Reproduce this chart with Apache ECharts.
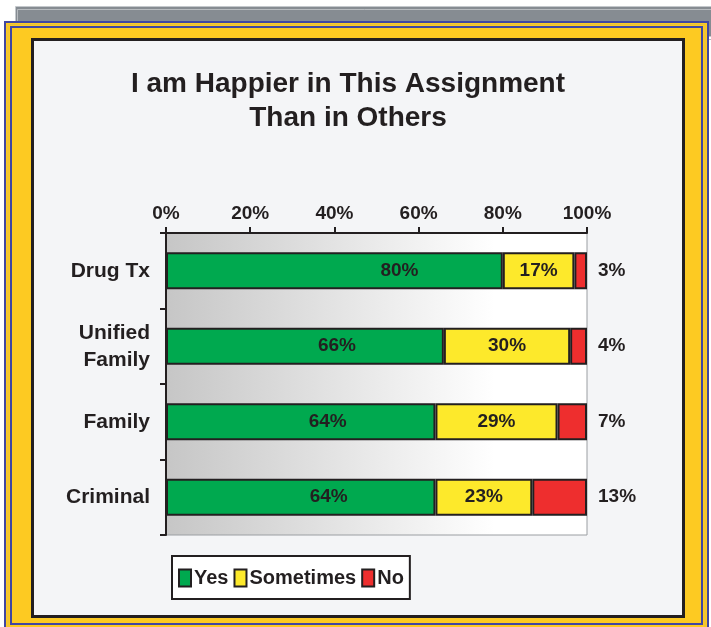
<!DOCTYPE html>
<html><head><meta charset="utf-8">
<script src="https://cdn.jsdelivr.net/npm/echarts@6/dist/echarts.min.js"></script>
<style>html,body{margin:0;padding:0;background:#fff}#c{width:711px;height:627px}</style>
</head><body><div id="c"></div>
<script>
const categories = ['Drug Tx', 'Unified\nFamily', 'Family', 'Criminal'];
const yesValues = [80, 66, 64, 64];
const sometimesValues = [17, 30, 29, 23];
const noValues = [3, 4, 7, 13];
const xTickLabels = ['0%', '20%', '40%', '60%', '80%', '100%'];
const seriesNames = ['Yes', 'Sometimes', 'No'];
const titleText = 'I am Happier in This Assignment\nThan in Others';

// label shifts of the green labels (style, px)
const yesLabelShift = [65, 32, 27, 28];

const F = 'Liberation Sans, Arial, Helvetica, sans-serif';
const DARK = '#231f20';
const chart = echarts.init(document.getElementById('c'), null, {renderer: 'canvas'});

const labelBase = {show: true, fontFamily: F, fontWeight: 'bold', fontSize: 19, color: DARK, formatter: p => p.value + '%'};
const itemBase = {borderColor: DARK, borderWidth: 2};

chart.setOption({
  animation: false,
  backgroundColor: '#ffffff',
  graphic: [
    {type: 'rect', z: -10, shape: {x: 15.5, y: 6.5, width: 720, height: 30}, style: {fill: '#868c92', stroke: '#c4c8cc', lineWidth: 1}},
    {type: 'rect', z: -10, shape: {x: 17.5, y: 9.5, width: 720, height: 30}, style: {fill: 'none', stroke: '#b8bcc0', lineWidth: 1}},
    {type: 'rect', z: -9, shape: {x: 5, y: 22, width: 703, height: 620}, style: {fill: '#fdca22', stroke: '#4046a2', lineWidth: 2}},
    {type: 'rect', z: -9, shape: {x: 8, y: 24.5, width: 697, height: 620}, style: {fill: 'none', stroke: '#e6c040', lineWidth: 1}},
    {type: 'rect', z: -9, shape: {x: 11, y: 27, width: 691, height: 597}, style: {fill: 'none', stroke: '#4046a2', lineWidth: 2}},
    {type: 'rect', z: -8, shape: {x: 32.5, y: 39.5, width: 651, height: 577}, style: {fill: '#f4f5f7', stroke: DARK, lineWidth: 3}}
  ],
  title: {
    text: titleText, left: 343, top: 62, textAlign: 'center',
    textStyle: {fontFamily: F, fontWeight: 'bold', fontSize: 28, lineHeight: 34, color: DARK}
  },
  legend: {
    data: seriesNames, left: 172, top: 556, orient: 'horizontal',
    backgroundColor: '#ffffff', borderColor: DARK, borderWidth: 2, borderRadius: 0,
    padding: [12, 6, 11, 6], itemWidth: 12, itemHeight: 17, itemGap: 5,
    icon: 'rect',
    textStyle: {fontFamily: F, fontWeight: 'bold', fontSize: 20, color: DARK, padding: [0, 0, 0, -2]},
    itemStyle: {borderColor: DARK, borderWidth: 2}
  },
  grid: {
    left: 166, right: 124, top: 233, bottom: 92, show: true,
    borderColor: '#9a9ea2', borderWidth: 1,
    backgroundColor: new echarts.graphic.LinearGradient(0, 0, 1, 0, [
      {offset: 0, color: '#c6c6c6'}, {offset: 0.78, color: '#ffffff'}, {offset: 1, color: '#ffffff'}
    ])
  },
  xAxis: {
    type: 'value', position: 'top', min: 0, max: 100, interval: 20,
    axisLine: {show: true, lineStyle: {color: DARK, width: 2}},
    axisTick: {show: true, length: 6, lineStyle: {color: DARK, width: 2}},
    splitLine: {show: false},
    axisLabel: {margin: 10, fontFamily: F, fontWeight: 'bold', fontSize: 19, color: DARK,
      formatter: (v) => xTickLabels[Math.round(v / 20)]}
  },
  yAxis: {
    type: 'category', data: categories, inverse: true,
    axisLine: {show: true, lineStyle: {color: DARK, width: 2}},
    axisTick: {show: true, length: 6, lineStyle: {color: DARK, width: 2}},
    axisLabel: {margin: 16, fontFamily: F, fontWeight: 'bold', fontSize: 21, lineHeight: 27, color: DARK, align: 'right'}
  },
  series: [
    {name: seriesNames[0], type: 'bar', stack: 'all', barWidth: 37,
      itemStyle: Object.assign({color: '#00a94f'}, itemBase),
      data: yesValues.map((v, i) => ({value: v, label: Object.assign({}, labelBase, {position: 'inside', offset: [yesLabelShift[i], 0]})}))},
    {name: seriesNames[1], type: 'bar', stack: 'all', barWidth: 37,
      itemStyle: Object.assign({color: '#fde92b'}, itemBase),
      label: Object.assign({}, labelBase, {position: 'inside'}),
      data: sometimesValues},
    {name: seriesNames[2], type: 'bar', stack: 'all', barWidth: 37,
      itemStyle: Object.assign({color: '#ee2e2e'}, itemBase),
      label: Object.assign({}, labelBase, {position: 'right', distance: 11}),
      data: noValues}
  ]
});
</script></body></html>
